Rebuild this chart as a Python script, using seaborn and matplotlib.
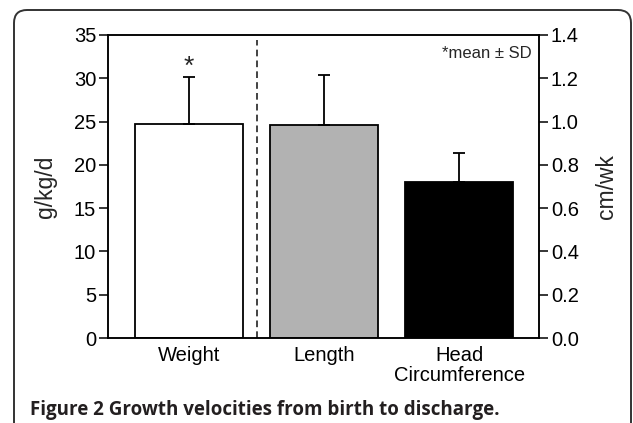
"""
Growth velocities from birth to discharge - bar chart with two y axes.
"""
import matplotlib
matplotlib.use("Agg")
import matplotlib.pyplot as plt
import matplotlib.patches as mpatches
from matplotlib.transforms import IdentityTransform
import seaborn as sns
import pandas as pd

categories = ["Weight", "Length", "Head\nCircumference"]
left_cats = ["Weight"]
left_means = [24.7]
left_sd = [5.4]
right_cats = ["Length", "Head\nCircumference"]
right_means = [0.985, 0.72]
right_sd = [0.23, 0.135]
bar_colors = {"Weight": "white", "Length": "#b2b2b2", "Head\nCircumference": "black"}

sns.set_theme(style="ticks")
plt.rcParams["font.family"] = ["Liberation Sans", "DejaVu Sans"]

fig = plt.figure(figsize=(6.33, 4.23), dpi=100)
ax = fig.add_axes([108 / 633, 85 / 423, 431 / 633, 303 / 423])
ax2 = ax.twinx()

left_df = pd.DataFrame({"cat": left_cats, "val": left_means})
right_df = pd.DataFrame({"cat": right_cats, "val": right_means})

sns.barplot(data=left_df, x="cat", y="val", hue="cat", order=categories,
            palette=bar_colors, edgecolor="black", linewidth=1.3,
            width=0.8, legend=False, ax=ax)
sns.barplot(data=right_df, x="cat", y="val", hue="cat", order=categories,
            palette=bar_colors, edgecolor="black", linewidth=1.3,
            width=0.8, legend=False, ax=ax2)

# upper-only SD whiskers
for a, cats, m, s in [(ax, left_cats, left_means, left_sd),
                      (ax2, right_cats, right_means, right_sd)]:
    xs = [categories.index(c) for c in cats]
    a.errorbar(xs, m, yerr=[[0] * len(m), s], fmt="none", ecolor="black",
               elinewidth=1.3, capsize=4.5, capthick=1.3, zorder=3)

ax.text(0, left_means[0] + left_sd[0] - 0.2, "*", ha="center", va="bottom", fontsize=19)
ax2.text(0.983, 0.965, "*mean \u00b1 SD", transform=ax.transAxes, ha="right", va="top", fontsize=12)

ax.axvline(0.5, ymin=0, ymax=0.982, color="#222222", lw=1.2, ls=(0, (4, 2.5)))

ax.set_xlim(-0.6, 2.59)
ax.set_ylim(0, 35)
ax2.set_ylim(0, 1.4)
ax.set_yticks(range(0, 36, 5))
ax2.set_yticks([0, 0.2, 0.4, 0.6, 0.8, 1.0, 1.2, 1.4])
ax2.set_yticklabels([f"{v:.1f}" for v in ax2.get_yticks()])
ax.set_xlabel("")
ax2.set_xlabel("")
ax.set_ylabel("g/kg/d", fontsize=16.5, labelpad=12)
ax2.set_ylabel("cm/wk", fontsize=16.5, labelpad=12)

for a in (ax, ax2):
    for sp in a.spines.values():
        sp.set_visible(True)
        sp.set_linewidth(1.1)
        sp.set_color("black")
    a.tick_params(axis="y", length=6.5, width=1.1, labelsize=14.5, pad=2, colors="black")
    a.tick_params(axis="x", length=0, labelsize=14.5, pad=6, colors="black")
ax.set_xticks(range(3))
ax.set_xticklabels(categories, linespacing=1.05)
ax2.tick_params(axis="x", labelbottom=False)

# rounded frame around the figure
frame = mpatches.FancyBboxPatch((14, -30), 617, 443, boxstyle="round,pad=0,rounding_size=13",
                                transform=IdentityTransform(), fill=False,
                                edgecolor="#333333", linewidth=1.4)
fig.patches.append(frame)

fig.text(30 / 633, 1 - 410 / 423, "Figure 2 Growth velocities from birth to discharge.",
         fontsize=13.5, fontweight="bold", family=["Open Sans", "DejaVu Sans"],
         ha="left", va="center", color="#231f20")

fig.savefig("out.png", dpi=100)
